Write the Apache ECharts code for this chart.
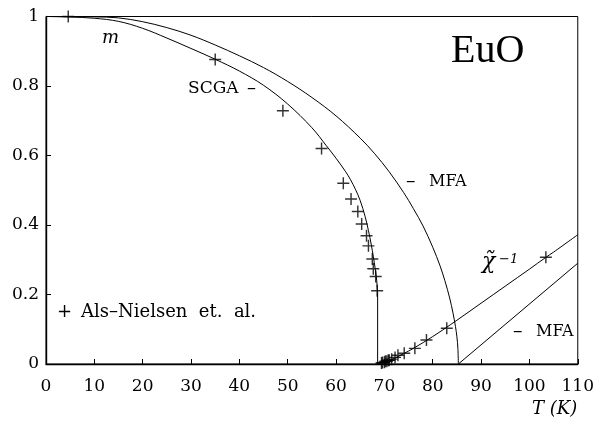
<!DOCTYPE html>
<html>
<head>
<meta charset="utf-8">
<script src="https://cdn.jsdelivr.net/npm/echarts@6/dist/echarts.min.js"></script>
<style>
html,body{margin:0;padding:0;background:#fff;}
#chart{width:597px;height:424px;}
</style>
</head>
<body>
<div id="chart"></div>
<script>
// Axis ticks
const xTicks = [0,10,20,30,40,50,60,70,80,90,100,110];
const yTicks = [0,0.2,0.4,0.6,0.8,1];

// SCGA magnetization curve (T, m)
const scgaM = [[0,1],[5,0.9985],[10,0.995],[15,0.986],[20,0.966],[25,0.938],[30,0.908],[35,0.877],[40,0.843],[45,0.802],[50,0.748],[55,0.680],[58,0.628],[60,0.592],[62,0.553],[63,0.530],[64,0.503],[65,0.470],[66,0.425],[66.7,0.384],[67.3,0.342],[67.7,0.310],[68.1,0.274],[68.4,0.241],[68.6,0.205]];
// SCGA vertical drop at its transition
const scgaDrop = [[68.6,0.205],[68.6,0]];
// MFA magnetization curve
const mfaM = [[0,1],[10,0.999],[15,0.996],[20,0.985],[25,0.968],[30,0.946],[35,0.918],[40,0.887],[45,0.853],[50,0.813],[55,0.767],[60,0.714],[65,0.650],[68,0.605],[71,0.553],[74,0.493],[76,0.447],[78,0.397],[80,0.336],[81.5,0.283],[82.5,0.240],[83.5,0.190],[84.2,0.146],[84.7,0.108],[85.0,0.078],[85.2,0.045],[85.3,0]];
// SCGA inverse susceptibility
const scgaChi = [[68.6,0],[70,0.005],[72,0.016],[74,0.030],[76,0.045],[80,0.079],[85,0.126],[90,0.175],[95,0.224],[100,0.273],[103.4,0.307],[105,0.322],[110,0.372]];
// MFA inverse susceptibility
const mfaChi = [[85.3,0],[110,0.29]];
// Als-Nielsen et al. data: magnetization
const expMT = [4.6,35,49,57,61.5,63.1,64.5,65.3,66.3,66.7,67.5,67.7,68.2,68.5];
const expMV = [1.0,0.876,0.729,0.62,0.52,0.475,0.439,0.403,0.369,0.34,0.302,0.274,0.252,0.211];
// Als-Nielsen et al. data: inverse susceptibility
const expChiT = [69.4,69.6,70.0,70.2,70.5,70.8,71.0,71.5,72.2,72.8,74.1,76.3,78.7,82.9,103.4];
const expChiV = [0.003,0.004,0.005,0.008,0.008,0.011,0.011,0.014,0.019,0.025,0.031,0.045,0.069,0.103,0.307];

const plus = 'path://M0,4.4H10V5.6H0Z M4.4,0H5.6V10H4.4Z';
const serif = 'DejaVu Serif';

const chart = echarts.init(document.getElementById('chart'));
const lineStyle = {color:'#000', width:1};
const lineSeries = (d, s) => ({type:'line', data:d, showSymbol:false, symbol:'none', smooth:s, lineStyle, silent:true, animation:false});

chart.setOption({
  animation:false,
  grid:{left:46, right:16, top:16.5, bottom:60, show:true, borderColor:'#000', borderWidth:1},
  xAxis:{type:'value', min:0, max:110, interval:10,
    axisLine:{lineStyle:{color:'#000', width:1.4}},
    axisTick:{inside:true, length:5, lineStyle:{color:'#000'}},
    splitLine:{show:false},
    axisLabel:{color:'#000', fontFamily:serif, fontSize:17, margin:14,
      formatter:(v)=> xTicks.includes(v) ? String(v) : ''}
  },
  yAxis:{type:'value', min:0, max:1, interval:0.2,
    axisLine:{lineStyle:{color:'#000', width:1.4}},
    axisTick:{inside:true, length:5, lineStyle:{color:'#000'}},
    splitLine:{show:false},
    axisLabel:{color:'#000', fontFamily:serif, fontSize:17, margin:7,
      formatter:(v)=> { const t = yTicks.find(k=>Math.abs(k-v)<1e-9); if(t===undefined) return ''; return (t===0||t===1)?String(t):t.toFixed(1);} }
  },
  series:[
    lineSeries(scgaM, 0.35),
    lineSeries(scgaDrop, false),
    lineSeries(mfaM, 0.35),
    lineSeries(scgaChi, 0.35),
    lineSeries(mfaChi, false),
    {type:'scatter', data:expMT.map((t,i)=>[t,expMV[i]]), symbol:plus, symbolSize:12, itemStyle:{color:'#000'}, silent:true},
    {type:'scatter', data:expChiT.map((t,i)=>[t,expChiV[i]]), symbol:plus, symbolSize:12, itemStyle:{color:'#000'}, silent:true}
  ],
  graphic:[
    {type:'text', left:102, top:29, style:{text:'m', font:'italic 18px "DejaVu Serif"', fill:'#000'}},
    {type:'text', left:188, top:80, style:{text:'SCGA', font:'17px "DejaVu Serif"', fill:'#000'}},
    {type:'text', left:247, top:80, style:{text:'–', font:'18px "DejaVu Serif"', fill:'#000'}},
    {type:'text', left:406, top:173, style:{text:'–', font:'19px "DejaVu Serif"', fill:'#000'}},
    {type:'text', left:429, top:174, style:{text:'MFA', font:'16px "DejaVu Serif"', fill:'#000'}},
    {type:'text', left:513, top:323, style:{text:'–', font:'19px "DejaVu Serif"', fill:'#000'}},
    {type:'text', left:536, top:324, style:{text:'MFA', font:'16px "DejaVu Serif"', fill:'#000'}},
    {type:'text', left:451, top:31, style:{text:'EuO', font:'40px "Liberation Serif"', fill:'#000'}},
    {type:'text', left:482, top:251, style:{text:'χ\u0303', font:'italic 22px "DejaVu Serif"', fill:'#000'}},
    {type:'text', left:499, top:253, style:{text:'−1', font:'italic 13px "DejaVu Serif"', fill:'#000'}},
    {type:'text', left:57, top:303, style:{text:'+', font:'18px "DejaVu Serif"', fill:'#000'}},
    {type:'text', left:81, top:303, style:{text:'Als–Nielsen  et.  al.', font:'18px "DejaVu Serif"', fill:'#000'}},
    {type:'text', left:532, top:400, style:{text:'T (K)', font:'italic 18px "DejaVu Serif"', fill:'#000'}}
  ]
});
</script>
</body>
</html>
